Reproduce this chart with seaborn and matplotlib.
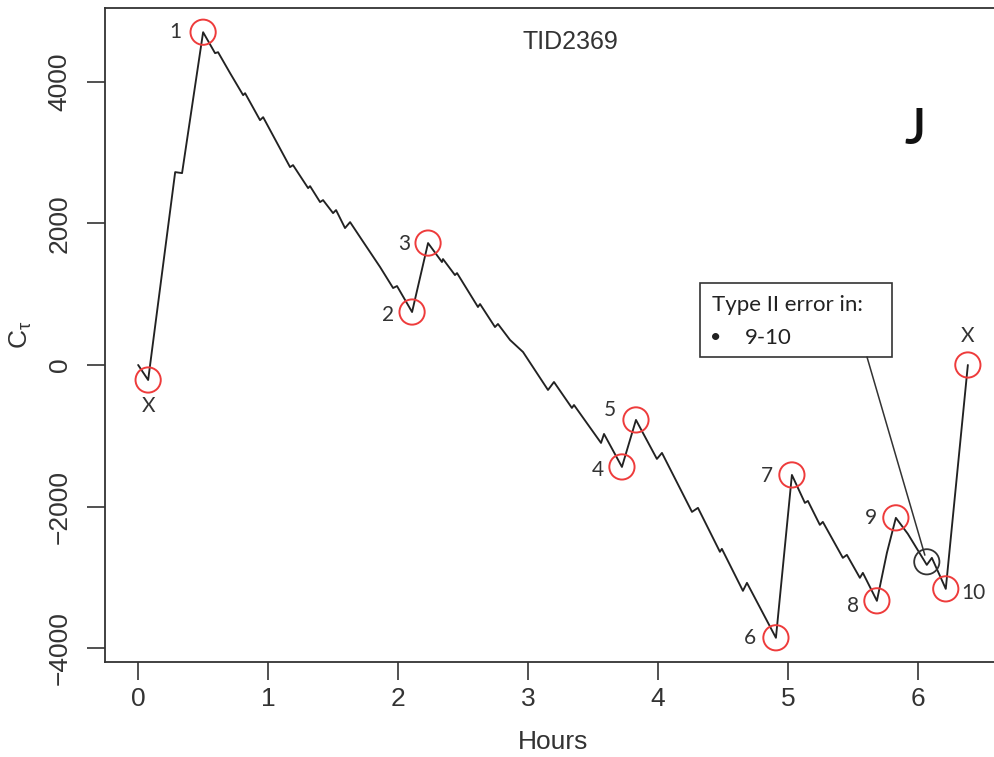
import matplotlib
matplotlib.use("Agg")
import matplotlib.pyplot as plt
import numpy as np
import pandas as pd
import seaborn as sns
from matplotlib.patches import Rectangle

# ---------------- data ----------------
hours = [0.000, 0.077, 0.285, 0.338, 0.500, 0.592, 0.615, 0.708, 0.808, 0.823,
         0.938, 0.962, 1.169, 1.192, 1.308, 1.323, 1.400, 1.423, 1.500, 1.523,
         1.592, 1.631, 1.723, 1.862, 1.962, 1.992, 2.108, 2.231, 2.338, 2.346,
         2.438, 2.454, 2.615, 2.631, 2.746, 2.769, 2.862, 2.962, 3.154, 3.200,
         3.338, 3.354, 3.562, 3.585, 3.723, 3.831, 3.992, 4.031, 4.262, 4.308,
         4.477, 4.492, 4.654, 4.685, 4.908, 5.031, 5.131, 5.154, 5.246, 5.269,
         5.423, 5.454, 5.554, 5.577, 5.685, 5.762, 5.831, 5.923, 6.069, 6.108,
         6.215, 6.385]
ct = [0, -212, 2724, 2710, 4700, 4404, 4418, 4121, 3811, 3839,
      3458, 3500, 2795, 2823, 2498, 2526, 2301, 2329, 2145, 2188,
      1934, 2018, 1764, 1383, 1087, 1115, 748, 1722, 1454, 1496,
      1270, 1298, 819, 861, 536, 579, 353, 183, -353, -240,
      -607, -565, -1101, -974, -1440, -776, -1327, -1242, -2075, -2018,
      -2639, -2597, -3190, -3077, -3853, -1553, -1948, -1920, -2258, -2216,
      -2724, -2682, -3006, -2936, -3331, -2653, -2159, -2385, -2823, -2724,
      -3162, 0]

circle_hours = [0.077, 0.500, 2.108, 2.231, 3.723, 3.831, 4.908, 5.031, 5.685, 5.831, 6.215, 6.385]
circle_ct = [-212, 4700, 748, 1722, -1440, -776, -3853, -1553, -3331, -2159, -3162, 0]
circle_labels = ["X", "1", "2", "3", "4", "5", "6", "7", "8", "9", "10", "X"]

error_hours = [6.069]
error_ct = [-2780]

x_ticks = [0, 1, 2, 3, 4, 5, 6]
y_ticks = [-4000, -2000, 0, 2000, 4000]
x_label = "Hours"
y_label = r"$\mathregular{C_{\tau}}$"
title_text = "TID2369"
panel_letter = "J"
box_title = "Type II error in:"
box_item = "9-10"

# ---------------- style / layout ----------------
label_offsets = [(0, -19), (-20, 0), (-17, -2), (-17, -1), (-17, -2), (-19, 7),
                 (-19, 0), (-18, -1), (-17, -4), (-18, 0), (20, -3), (0, 21)]

sns.set_theme(style="ticks")
plt.rcParams["font.family"] = ["Liberation Sans", "DejaVu Sans"]
plt.rcParams["mathtext.fontset"] = "custom"
plt.rcParams["mathtext.rm"] = "Liberation Sans"
plt.rcParams["mathtext.it"] = "Liberation Sans"

W, H = 995, 757
fig = plt.figure(figsize=(W / 100, H / 100), dpi=100)
fig.patch.set_facecolor("white")
ax = fig.add_axes([105 / W, 95 / H, 896 / W, 654 / H])
ax.set_facecolor("white")

df = pd.DataFrame({"Hours": hours, "Ct": ct})
sns.lineplot(data=df, x="Hours", y="Ct", sort=False, estimator=None,
             color="#222222", linewidth=1.35, ax=ax, zorder=2)

sns.scatterplot(x=circle_hours, y=circle_ct, ax=ax, marker="o", s=330,
                facecolors="none", edgecolors="#ee3b3b", linewidths=1.4, zorder=3)
sns.scatterplot(x=error_hours, y=error_ct, ax=ax, marker="o", s=330,
                facecolors="none", edgecolors="#333333", linewidths=1.3, zorder=3)

for hx, cy, lab, off in zip(circle_hours, circle_ct, circle_labels, label_offsets):
    ax.annotate(lab, xy=(hx, cy), xytext=off, textcoords="offset points",
                ha="center", va="center", fontsize=15,
                family=["Lato", "DejaVu Sans"], color="#333333")

ax.set_xlim(-0.255, 6.64)
ax.set_ylim(-4195, 5042)
ax.set_xticks(x_ticks)
ax.set_yticks(y_ticks)
ax.set_xticklabels([str(v) for v in x_ticks])
ax.set_yticklabels([str(v).replace("-", "\u2212") for v in y_ticks])
ax.tick_params(axis="both", direction="out", length=13, width=1.2,
               color="#333333", labelsize=19, labelcolor="#333333")
ax.tick_params(axis="x", pad=5)
ax.tick_params(axis="y", pad=11)
for lbl in ax.get_yticklabels():
    lbl.set_rotation(90)
    lbl.set_va("center")
    lbl.set_ha("right")

for sp in ax.spines.values():
    sp.set_visible(True)
    sp.set_color("#333333")
    sp.set_linewidth(1.3)

ax.set_xlabel(x_label, fontsize=19, color="#333333", labelpad=14)
ax.set_ylabel("")
ax.text((21 - 105) / 896, 0.5, y_label, transform=ax.transAxes, rotation=90,
        ha="center", va="center", fontsize=19, color="#333333")

ax.text((570 - 105) / 896, (662 - 42) / 654, title_text, transform=ax.transAxes,
        ha="center", va="center", fontsize=18, color="#333333")
ax.text((915 - 105) / 896, (662 - 130) / 654, panel_letter, transform=ax.transAxes,
        ha="center", va="center", fontsize=36, color="#111111", fontweight="semibold",
        family=["Lato", "DejaVu Sans"])

# annotation box
bx0, bx1 = (700 - 105) / 896, (892 - 105) / 896
by0, by1 = (662 - 357) / 654, (662 - 283) / 654
ax.add_patch(Rectangle((bx0, by0), bx1 - bx0, by1 - by0, transform=ax.transAxes,
                       facecolor="white", edgecolor="#333333", linewidth=1.2, zorder=4))
ax.text((712 - 105) / 896, (662 - 305) / 654, box_title, transform=ax.transAxes,
        ha="left", va="center", fontsize=16, family=["Lato", "DejaVu Sans"],
        color="#222222", zorder=5)
ax.text((716 - 105) / 896, (662 - 338) / 654, "\u2022", transform=ax.transAxes,
        ha="center", va="center", fontsize=14, family=["Lato", "DejaVu Sans"],
        color="#222222", zorder=5)
ax.text((745 - 105) / 896, (662 - 338) / 654, box_item, transform=ax.transAxes,
        ha="left", va="center", fontsize=16, family=["Lato", "DejaVu Sans"],
        color="#222222", zorder=5)
ax.annotate("", xy=(error_hours[0], error_ct[0]), xycoords="data",
            xytext=((867 - 105) / 896, by0), textcoords="axes fraction",
            arrowprops=dict(arrowstyle="-", color="#333333", lw=1.1,
                            shrinkA=0, shrinkB=5), zorder=4)

fig.savefig("out.png", dpi=100, facecolor="white")
